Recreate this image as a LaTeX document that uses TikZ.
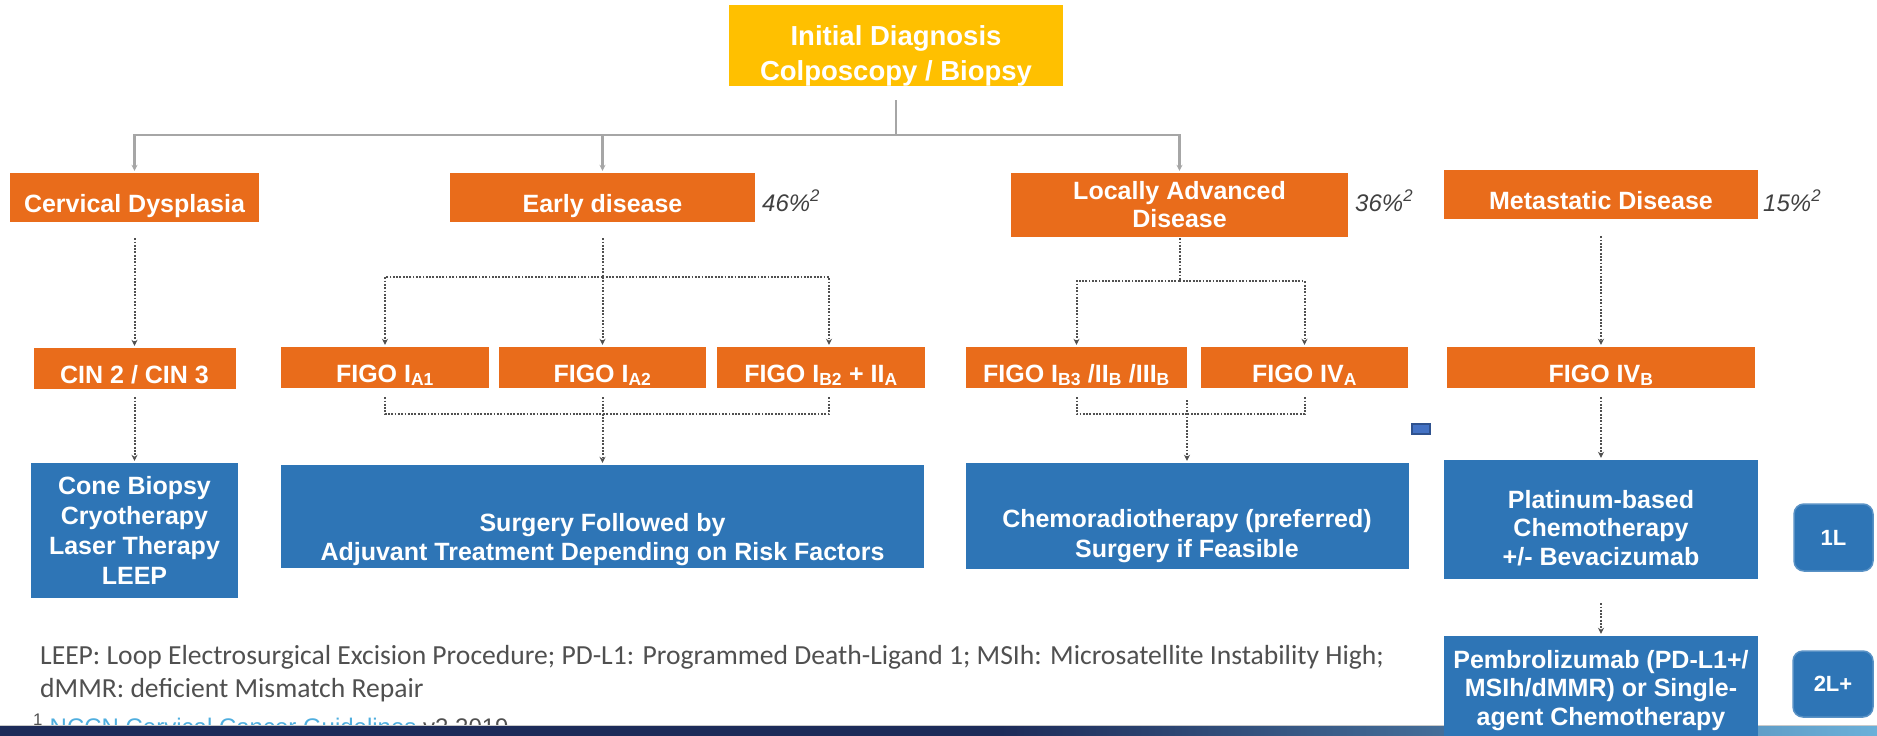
\documentclass[tikz,border=0pt]{standalone}
\usepackage{fontspec}
\setmainfont{Liberation Sans}
\newfontfamily\notefont{Carlito}
\usetikzlibrary{arrows.meta}
\definecolor{gold}{HTML}{FFC000}
\definecolor{rust}{HTML}{E96C1B}
\definecolor{steel}{HTML}{2E75B6}
\definecolor{treegray}{HTML}{A6A6A6}
\definecolor{dotgray}{HTML}{505050}
\definecolor{rategray}{HTML}{404040}
\definecolor{notegray}{HTML}{505050}
\definecolor{linkblue}{HTML}{4FAEDF}
\definecolor{navy}{HTML}{1D2B59}
\definecolor{skyband}{HTML}{6BB0D9}
\definecolor{markblue}{HTML}{4472C4}
\definecolor{markedge}{HTML}{2F528F}
\newcommand{\padtop}[1]{\rule{0pt}{#1}}

\begin{document}
\begin{tikzpicture}[x=1pt, y=-1pt, >={Stealth[length=6pt,width=6pt]},
		every node/.style={inner sep=0pt, align=center, text=white,
			font=\bfseries\fontsize{25}{30}\selectfont},
		stage/.style={fill=rust},
		flat/.style={text height=32pt, text depth=3pt},
		care/.style={fill=steel},
		line/.style={rounded corners=10pt, fill=steel, draw=steel!80!white, line width=1.5pt,
			font=\bfseries\fontsize{22}{26}\selectfont},
		rate/.style={anchor=base west, text=rategray, font=\itshape\fontsize{24}{28}\selectfont},
		note/.style={anchor=base west, text=notegray, font=\notefont\fontsize{27.6}{32}\selectfont},
		tree/.style={draw=treegray, line width=2.5pt},
		flow/.style={draw=dotgray, line width=2pt, dash pattern=on 1.8pt off 1.5pt},
		tip/.style={->, shorten >=2pt}]
	\useasboundingbox (0,0) rectangle (1877,736);

	\node[note] (noteA) at (40,664) {LEEP: Loop Electrosurgical Excision Procedure; PD-L1: Programmed Death-Ligand 1; MSIh: Microsatellite Instability High;};
	\node[note] (noteB) at (40,697) {dMMR: deficient Mismatch Repair};
	\node[anchor=base west, text=linkblue, font=\fontsize{24}{28}\selectfont] (source) at (33,735)
		{\textcolor{notegray}{\textsuperscript{1}} NCCN Cervical Cancer Guidelines \textcolor{notegray}{v2.2019}};
	\fill[navy] (0,725) rectangle (1000,736);
	\shade[left color=navy, right color=skyband] (1000,725) rectangle (1877,736);
	\draw[treegray!60, line width=1pt] (0,725) -- (1877,725);

	\node[fill=gold, minimum width=334pt, minimum height=81pt,
		font=\bfseries\fontsize{27.5}{35}\selectfont] (diag) at (896,45.5)
		{\padtop{40pt}Initial Diagnosis\\Colposcopy / Biopsy};

	\node[stage, flat, minimum width=249pt, minimum height=49pt] (dysp) at (134.5,197.5) {Cervical Dysplasia};
	\node[stage, flat, minimum width=305pt, minimum height=49pt] (early) at (602.5,197.5) {Early disease};
	\node[stage, minimum width=337pt, minimum height=64pt,
		font=\bfseries\fontsize{25}{28}\selectfont] (lad) at (1179.5,205) {Locally Advanced\\Disease};
	\node[stage, flat, minimum width=314pt, minimum height=49pt] (meta) at (1601,194.5) {Metastatic Disease};

	\node[rate] (pearly) at (762,211) {46\%\textsuperscript{2}};
	\node[rate] (plad) at (1355,211) {36\%\textsuperscript{2}};
	\node[rate] (pmeta) at (1763,211) {15\%\textsuperscript{2}};

	\node[stage, flat, minimum width=202pt, minimum height=41pt] (cin) at (134.5,368.5) {CIN 2 / CIN 3};
	\node[stage, flat, minimum width=208pt, minimum height=41pt] (ia1) at (385,367.5) {FIGO I\textsubscript{A1}};
	\node[stage, flat, minimum width=207pt, minimum height=41pt] (ia2) at (602.5,367.5) {FIGO I\textsubscript{A2}};
	\node[stage, flat, minimum width=208pt, minimum height=41pt] (ib2) at (821,367.5) {FIGO I\textsubscript{B2} + II\textsubscript{A}};
	\node[stage, flat, minimum width=221pt, minimum height=41pt] (ib3) at (1076.5,367.5) {FIGO I\textsubscript{B3} /II\textsubscript{B} /III\textsubscript{B}};
	\node[stage, flat, minimum width=207pt, minimum height=41pt] (iva) at (1304.5,367.5) {FIGO IV\textsubscript{A}};
	\node[stage, flat, minimum width=308pt, minimum height=41pt] (ivb) at (1601,367.5) {FIGO IV\textsubscript{B}};

	\node[care, minimum width=207pt, minimum height=135pt] (cone) at (134.5,530.5)
		{Cone Biopsy\\Cryotherapy\\Laser Therapy\\LEEP};
	\node[care, minimum width=643pt, minimum height=103pt, font=\bfseries\fontsize{25}{29}\selectfont] (surg) at (602.5,516.5)
		{\padtop{64pt}Surgery Followed by\\Adjuvant Treatment Depending on Risk Factors};
	\node[care, minimum width=443pt, minimum height=106pt] (chemo) at (1187,516)
		{\padtop{59pt}Chemoradiotherapy (preferred)\\Surgery if Feasible};
	\node[care, minimum width=314pt, minimum height=119pt, font=\bfseries\fontsize{25}{28.5}\selectfont] (plat) at (1601,519.5)
		{\padtop{35pt}Platinum-based\\Chemotherapy\\+/- Bevacizumab};
	\node[care, minimum width=314pt, minimum height=108.7pt, font=\bfseries\fontsize{25}{28.5}\selectfont] (pembro) at (1601,690.35)
		{Pembrolizumab (PD-L1+/\\MSIh/dMMR) or Single-\\agent Chemotherapy};

	\node[line, minimum width=79pt, minimum height=67pt] (first) at (1833.5,537.5) {1L};
	\node[line, minimum width=80pt, minimum height=66pt] (second) at (1833,684) {2L+};

	\draw[fill=markblue, draw=markedge, line width=1.5pt] (1412,424) rectangle (1430,434);

	\coordinate (hub) at (896,135);
	\draw[tree, shorten <=14pt] (diag) -- (hub);
	\draw[tree, tip] (hub) -| (dysp);
	\draw[tree, tip] (hub) -| (early);
	\draw[tree, tip] (hub) -| (lad);

	\draw[flow, tip, shorten <=16pt] (dysp) -- (cin);
	\draw[flow, tip, shorten <=8pt] (cin) -- (cone);

	\coordinate (esplit) at (602.5,277);
	\coordinate (ejoin) at (602.5,414);
	\draw[flow, shorten <=16pt] (early) -- (esplit);
	\draw[flow, tip] (esplit) -| (ia1);
	\draw[flow, tip] (esplit) -- (ia2);
	\draw[flow, tip] (esplit) -| ([xshift=8pt]ib2.north);
	\draw[flow, shorten <=9pt] (ia1) |- (ejoin);
	\draw[flow, shorten <=9pt] ([xshift=8pt]ib2.south) |- (ejoin);
	\draw[flow, tip, shorten <=9pt] (ia2) -- (surg);

	\coordinate (lsplit) at (1179.5,281);
	\coordinate (ljoin) at (1187,414);
	\coordinate (lfork) at (1187,400);
	\draw[flow, shorten <=1pt] (lad) -- (lsplit);
	\draw[flow, tip] (lsplit) -| (ib3);
	\draw[flow, tip] (lsplit) -| (iva);
	\draw[flow, shorten <=9pt] (ib3) |- (ljoin);
	\draw[flow, shorten <=9pt] (iva) |- (ljoin);
	\draw[flow, tip] (lfork) -- (chemo);

	\draw[flow, tip, shorten <=17pt] (meta) -- (ivb);
	\draw[flow, tip, shorten <=9pt] (ivb) -- (plat);
	\draw[flow, tip, shorten <=24pt] (plat) -- (pembro);
\end{tikzpicture}
\end{document}
